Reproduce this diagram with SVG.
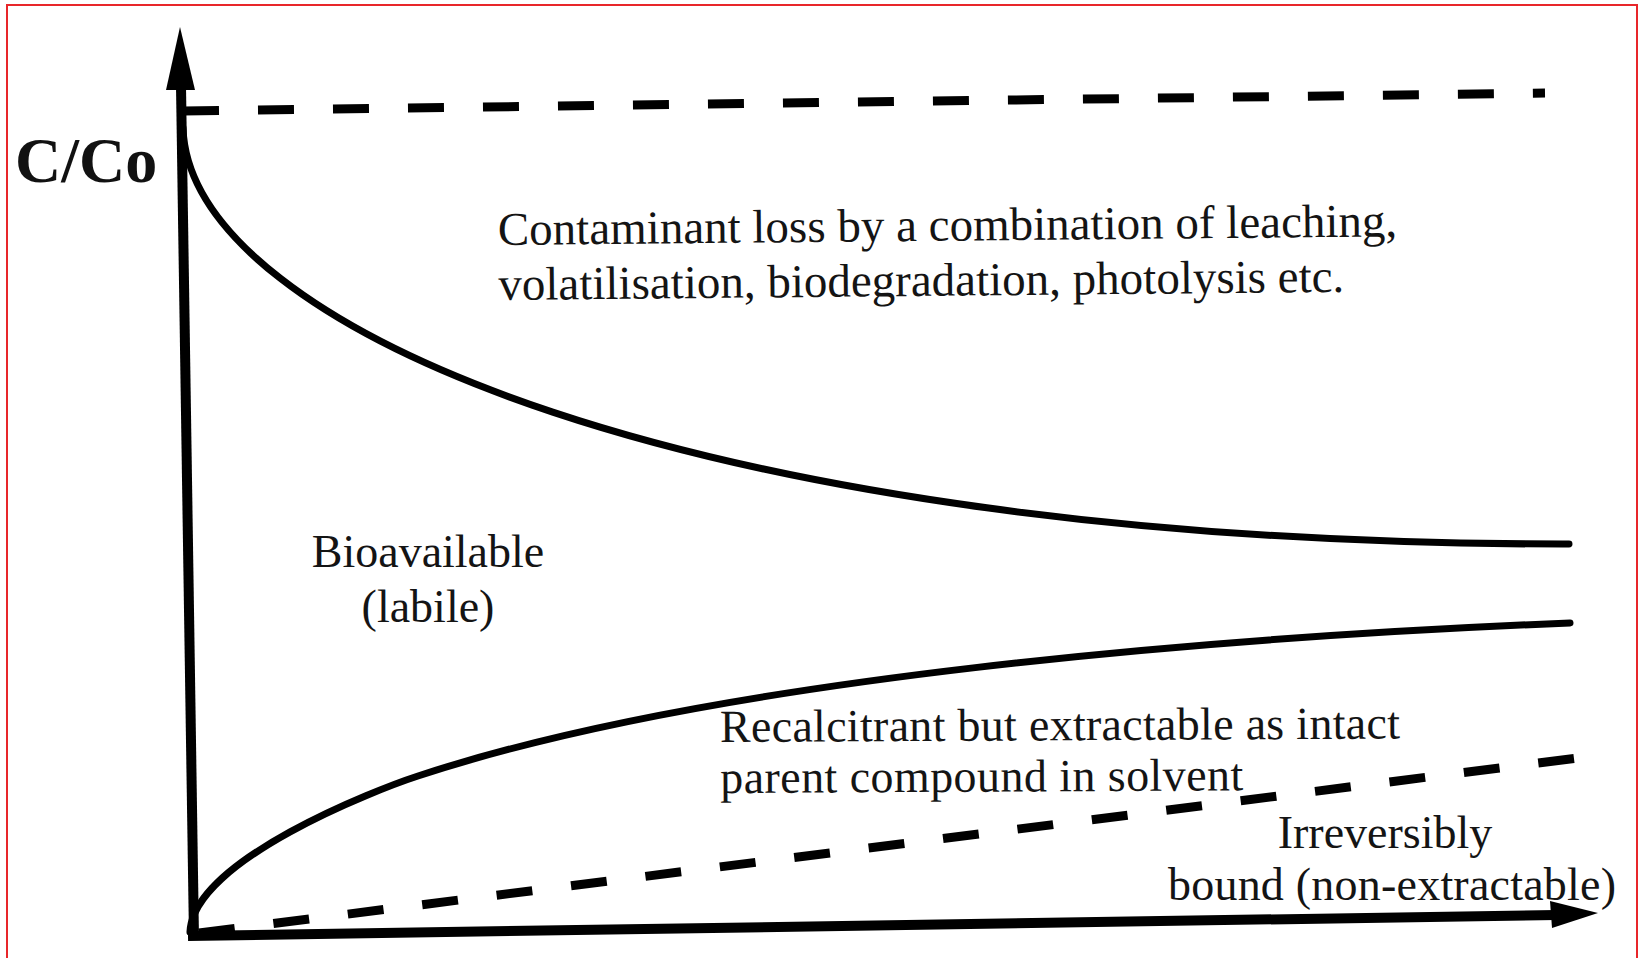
<svg xmlns="http://www.w3.org/2000/svg" width="1640" height="958" viewBox="0 0 1640 958">
  <style>
    .lbl { font-family: "Liberation Serif", "Times New Roman", serif; fill: #141414; font-size: 46px; }
    .axis { stroke: #000; stroke-width: 10; fill: none; }
    .curve { stroke: #000; stroke-width: 7; fill: none; stroke-linecap: round; stroke-linejoin: round; }
    .dash { stroke: #000; stroke-width: 9; fill: none; stroke-dasharray: 36 39; }
  </style>
  <rect x="0" y="0" width="1640" height="958" fill="#ffffff"/>
  <rect x="7" y="5" width="1630" height="970" fill="none" stroke="#e8262a" stroke-width="2"/>

  <g id="axes">
    <line class="axis" x1="181" y1="86" x2="194" y2="938"/>
    <polygon points="180,27 166,90 195,90" fill="#000"/>
    <line class="axis" x1="188" y1="936" x2="1556" y2="915"/>
    <polygon points="1598,913 1550,901 1552,928" fill="#000"/>
  </g>

  <g id="connectors">
    <line id="initial-level" class="dash" x1="183" y1="111" x2="1545" y2="93"/>
    <path id="total-remaining" class="curve" d="M183,128 C190,330 700,545 1569,544"/>
    <path id="extractable-boundary" class="curve" d="M190,932 C193,860 378,789 418,776 C718,677 1220,637 1570,623"/>
    <line id="bound-boundary" class="dash" x1="199" y1="933" x2="1578" y2="758"/>
  </g>

  <g id="label-yaxis">
    <text x="15" y="182" style="font-family: 'Liberation Serif', 'Times New Roman', serif; font-weight: bold; font-size: 64px; fill: #111;">C/Co</text>
  </g>
  <g id="label-loss" transform="rotate(-0.55 498 245)">
    <text class="lbl" x="498" y="245" style="font-size:47px">Contaminant loss by a combination of leaching,</text>
    <text class="lbl" x="498" y="300" style="font-size:47px">volatilisation, biodegradation, photolysis etc.</text>
  </g>
  <g id="label-bioavailable">
    <text class="lbl" x="428" y="567" text-anchor="middle">Bioavailable</text>
    <text class="lbl" x="428" y="622" text-anchor="middle">(labile)</text>
  </g>
  <g id="label-recalcitrant" transform="rotate(-0.3 720 742)">
    <text class="lbl" x="720" y="742" textLength="680" lengthAdjust="spacing">Recalcitrant but extractable as intact</text>
    <text class="lbl" x="720" y="793" textLength="523" lengthAdjust="spacing">parent compound in solvent</text>
  </g>
  <g id="label-irreversible">
    <text class="lbl" x="1385" y="848" text-anchor="middle">Irreversibly</text>
    <text class="lbl" x="1168" y="900" textLength="448" lengthAdjust="spacing">bound (non-extractable)</text>
  </g>
</svg>
